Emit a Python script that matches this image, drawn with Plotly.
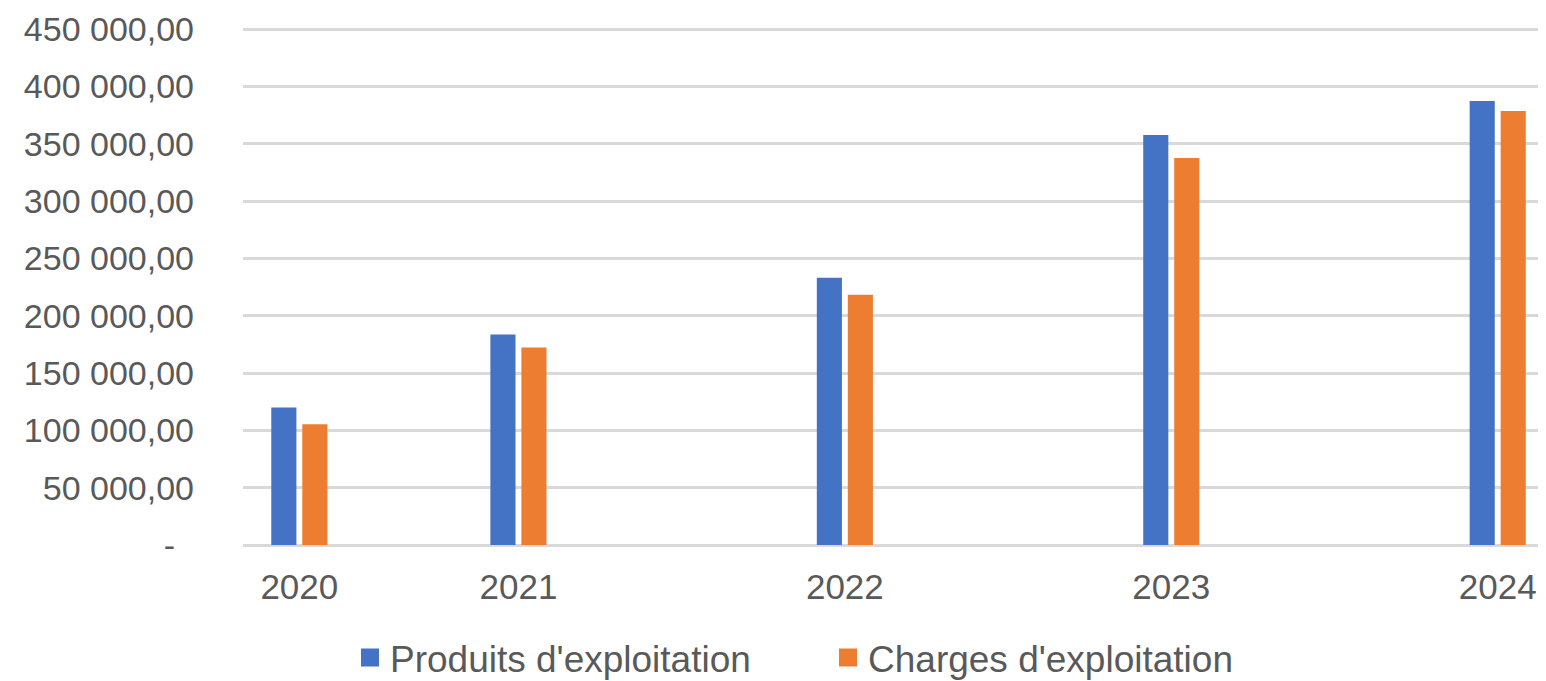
import plotly.graph_objects as go

# Period (fiscal year) dates, shown as years on a date axis
periods = ["2020-05-01", "2021-01-01", "2022-01-01", "2023-01-01", "2024-01-01"]
produits = [120000, 183600, 233200, 357700, 387300]
charges = [105300, 172300, 218400, 337700, 378600]

y_tickvals = [0, 50000, 100000, 150000, 200000, 250000, 300000, 350000, 400000, 450000]
y_ticktext = ["-\u00a0\u00a0", "50 000,00", "100 000,00", "150 000,00", "200 000,00",
              "250 000,00", "300 000,00", "350 000,00", "400 000,00", "450 000,00"]

series_names = ["Produits d'exploitation", "Charges d'exploitation"]
series_colors = ["#4472C4", "#ED7D31"]

FONT = "Liberation Sans"
TXT = "#595959"
GRID = "#D9D9D9"

fig = go.Figure()
for name, vals, col in zip(series_names, [produits, charges], series_colors):
    fig.add_trace(go.Bar(x=periods, y=vals, name=name, showlegend=False,
                         marker=dict(color=col, line=dict(width=0))))
# legend entries with larger square swatches
for name, col in zip(series_names, series_colors):
    fig.add_trace(go.Scatter(x=[None], y=[None], mode="markers", name=name,
                             marker=dict(symbol="square", size=20, color=col,
                                         line=dict(width=2, color=col))))

fig.update_layout(
    width=1538, height=673,
    margin=dict(l=235, r=0, t=20, b=136, autoexpand=False),
    paper_bgcolor="white", plot_bgcolor="white",
    barmode="group", bargap=0.717, bargroupgap=0.19,
    font=dict(family=FONT, color=TXT, size=35),
    showlegend=True,
    legend=dict(orientation="h", x=(350 - 243) / 1303, xanchor="left",
                yref="container", y=(673 - 650) / 673, yanchor="middle",
                font=dict(size=37, color=TXT), entrywidth=433, entrywidthmode="pixels",
                itemsizing="trace", bgcolor="rgba(0,0,0,0)"),
)
fig.update_xaxes(type="date", range=["2020-02-28", "2024-02-24"],
                 tickvals=periods, tickformat="%Y", showgrid=False, showline=False,
                 zeroline=False, ticks="", ticklabelstandoff=18,
                 tickfont=dict(size=35, color=TXT))
fig.update_yaxes(range=[0, 451000], tickvals=y_tickvals, ticktext=y_ticktext,
                 showgrid=True, gridcolor=GRID, gridwidth=3,
                 zeroline=True, zerolinecolor=GRID, zerolinewidth=3,
                 showline=False, ticks="", ticklabelstandoff=48,
                 ticklabeloverflow="allow",
                 tickfont=dict(size=34, color=TXT))

fig.write_html("out.html")
